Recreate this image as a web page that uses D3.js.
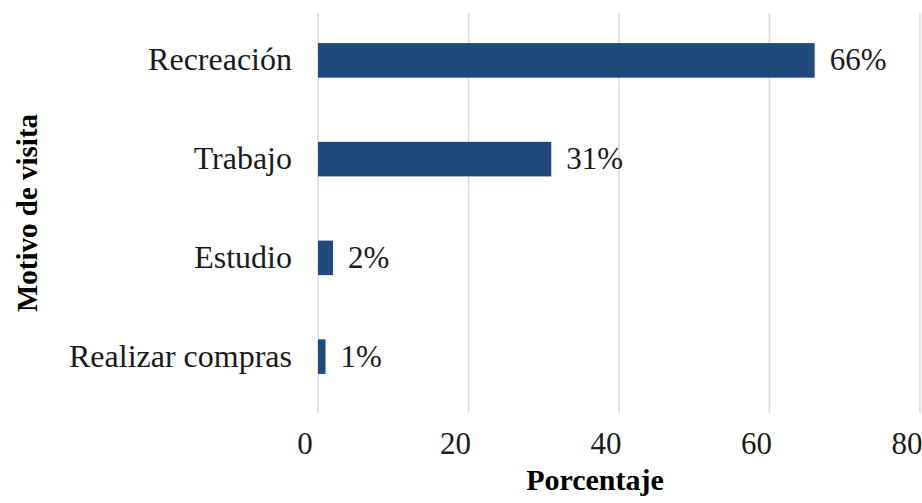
<!DOCTYPE html>
<html>
<head>
<meta charset="utf-8">
<script src="https://cdn.jsdelivr.net/npm/d3@7/dist/d3.min.js"></script>
<style>
  html, body { margin: 0; padding: 0; background: #ffffff; }
  svg { display: block; font-family: "Liberation Serif", "Times New Roman", serif; }
</style>
</head>
<body>
<svg id="chart" width="922" height="503"></svg>
<script>
// Motivo de visita — porcentaje de respuestas
const categories = ["Recreación", "Trabajo", "Estudio", "Realizar compras"];
const values = [66, 31, 2, 1];
const valueLabels = ["66%", "31%", "2%", "1%"];
const xTicks = [0, 20, 40, 60, 80];
const xTickLabels = ["0", "20", "40", "60", "80"];

const svg = d3.select("#chart");

const x = d3.scaleLinear().domain([0, 80]).range([318, 920]);
const y = d3.scaleBand().domain(categories).range([11, 406]).paddingInner(0.65).paddingOuter(0.325);

// vertical gridlines
svg.append("g")
  .selectAll("line")
  .data(xTicks)
  .join("line")
  .attr("x1", d => x(d)).attr("x2", d => x(d))
  .attr("y1", 13).attr("y2", 413)
  .attr("stroke", "#d9d9d9")
  .attr("stroke-width", 1.5);

// bars
svg.append("g")
  .selectAll("rect")
  .data(categories)
  .join("rect")
  .attr("x", x(0))
  .attr("y", d => y(d))
  .attr("width", (d, i) => x(values[i]) - x(0))
  .attr("height", y.bandwidth())
  .attr("fill", "#1f4a7c");

const textColor = "#1a1a1a";

// value labels
svg.append("g")
  .selectAll("text")
  .data(categories)
  .join("text")
  .attr("x", (d, i) => x(values[i]) + 15)
  .attr("y", d => y(d) + y.bandwidth() / 2 + 10)
  .attr("font-size", 31)
  .attr("fill", textColor)
  .text((d, i) => valueLabels[i]);

// category labels
svg.append("g")
  .selectAll("text")
  .data(categories)
  .join("text")
  .attr("x", 292)
  .attr("y", d => y(d) + y.bandwidth() / 2 + 10)
  .attr("text-anchor", "end")
  .attr("font-size", 32)
  .attr("fill", textColor)
  .text(d => d);

// x tick labels
svg.append("g")
  .selectAll("text")
  .data(xTicks)
  .join("text")
  .attr("x", d => x(d) - 13)
  .attr("y", 454)
  .attr("text-anchor", "middle")
  .attr("font-size", 31)
  .attr("fill", textColor)
  .text((d, i) => xTickLabels[i]);

// axis titles
svg.append("text")
  .attr("x", 595)
  .attr("y", 490)
  .attr("text-anchor", "middle")
  .attr("font-size", 30)
  .attr("font-weight", "bold")
  .attr("fill", "#000")
  .text("Porcentaje");

svg.append("text")
  .attr("transform", "translate(37,213) rotate(-90)")
  .attr("text-anchor", "middle")
  .attr("font-size", 29)
  .attr("font-weight", "bold")
  .attr("fill", "#000")
  .text("Motivo de visita");
</script>
</body>
</html>
